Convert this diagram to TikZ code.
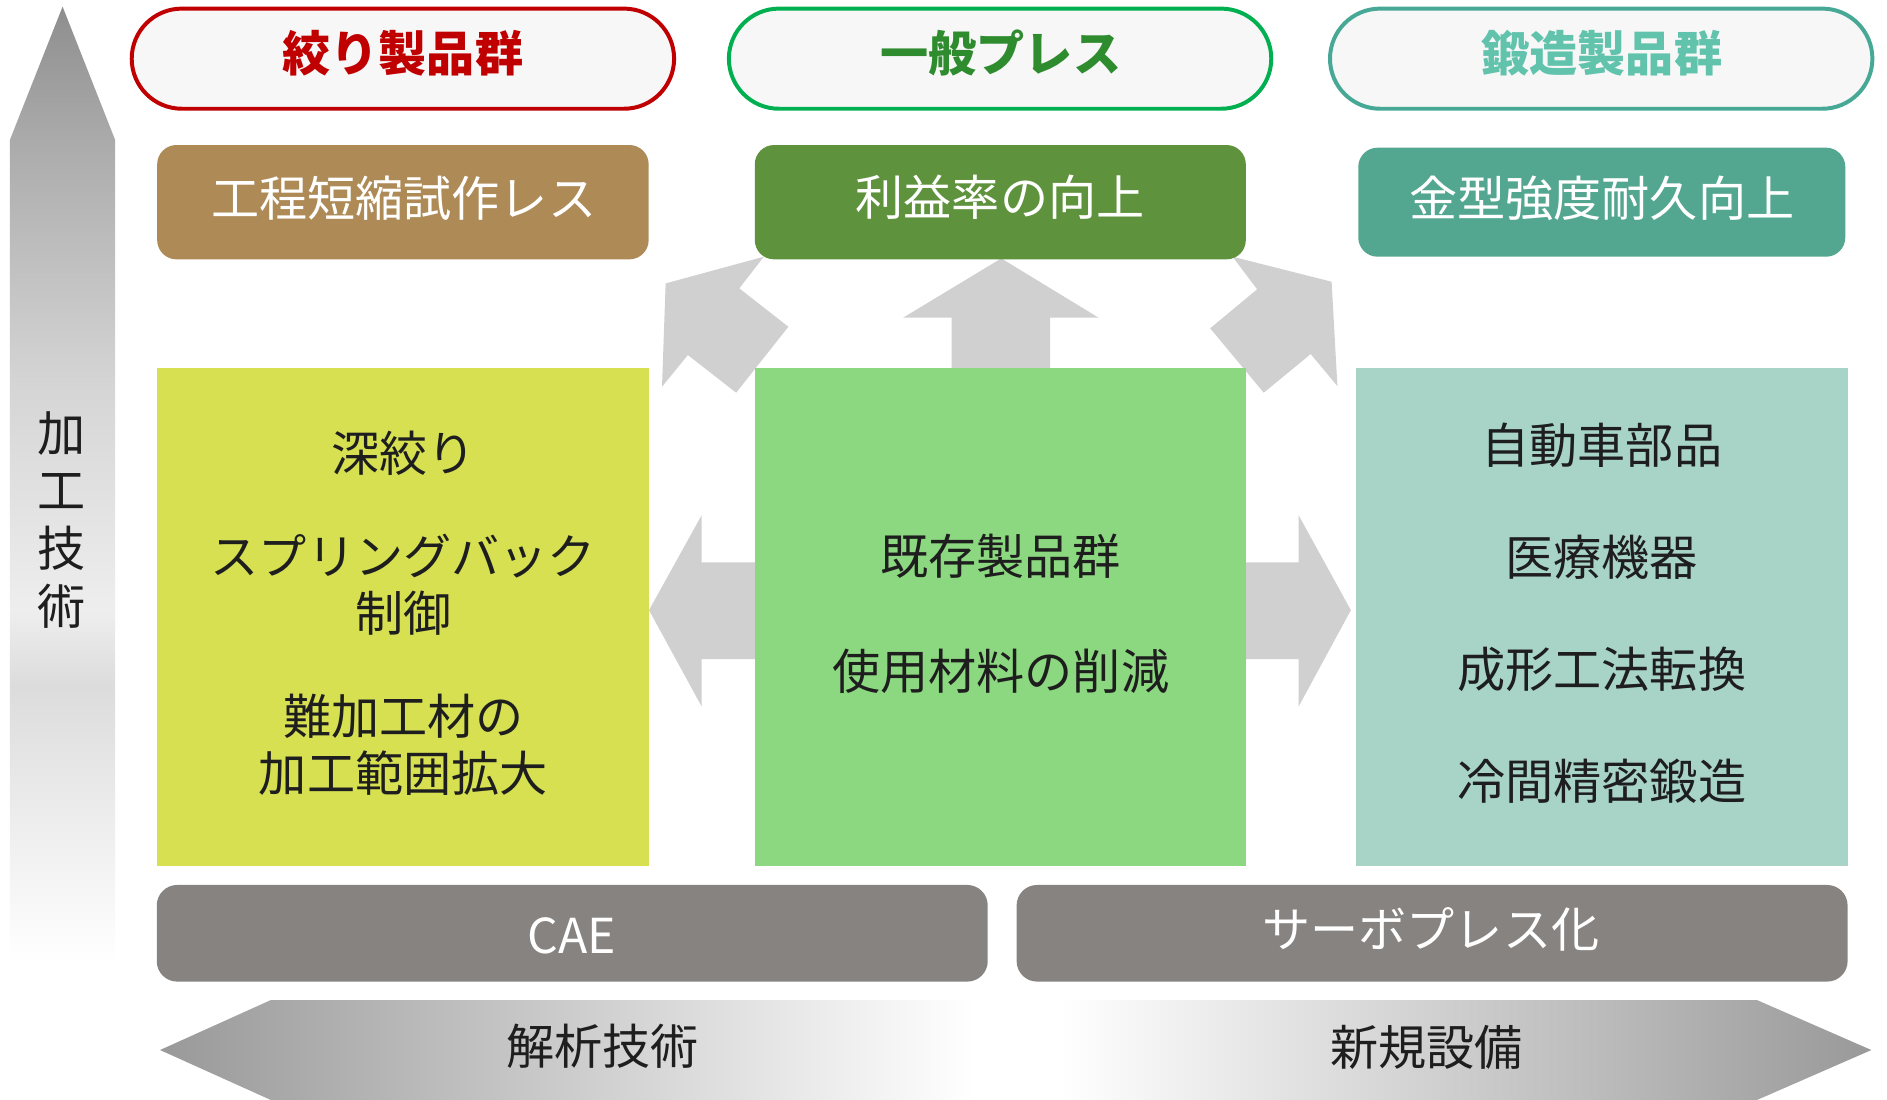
\documentclass[tikz,border=0pt]{standalone}
\usepackage{fontspec}
\setmainfont{Noto Sans CJK JP}
\definecolor{rojo}{HTML}{C00000}
\definecolor{verdeborde}{HTML}{00B050}
\definecolor{verdetexto}{HTML}{2E8B2E}
\definecolor{turquesaborde}{HTML}{47A896}
\definecolor{turquesatexto}{HTML}{62C3AD}
\definecolor{fondo}{HTML}{F7F7F7}
\definecolor{marron}{HTML}{AD8A56}
\definecolor{verdeoscuro}{HTML}{5E923C}
\definecolor{turquesa}{HTML}{53A68F}
\definecolor{amarillo}{HTML}{D6E051}
\definecolor{verdeclaro}{HTML}{8CD880}
\definecolor{turquesaclaro}{HTML}{A8D4C8}
\definecolor{grisbase}{HTML}{878381}
\definecolor{grisflecha}{HTML}{D0D0D0}
\definecolor{tinta}{HTML}{1E1E1E}
\definecolor{gv3}{HTML}{DCDCDC}
\definecolor{gv4}{HTML}{EEEEEE}
\definecolor{gv5}{HTML}{D5D5D5}
\definecolor{gv6}{HTML}{ABABAB}
\definecolor{gv7}{HTML}{8E8E8E}
\definecolor{gh}{HTML}{999999}
\pgfdeclareverticalshading{flechavertical}{100bp}{color(0bp)=(white); color(25bp)=(white); color(39.5bp)=(gv3); color(43.4bp)=(gv4); color(55.2bp)=(gv5); color(67.9bp)=(gv6); color(75bp)=(gv7); color(100bp)=(gv7)}
\pgfdeclarehorizontalshading{flechahorizontal}{100bp}{color(0bp)=(gh); color(25bp)=(gh); color(48.8bp)=(white); color(51.3bp)=(white); color(75bp)=(gh); color(100bp)=(gh)}
\tikzset{
  titulo/.style={line width=3.3pt, fill=fondo, rounded corners=41.6pt, minimum width=450.7pt, minimum height=83.2pt, inner sep=0pt},
  textotitulo/.style={font=\bfseries\fontsize{40}{48}\selectfont, text height=35pt, text depth=5pt, inner sep=0pt},
  meta/.style={rounded corners=16pt, inner sep=0pt},
  caja/.style={inner sep=0pt, minimum width=408.5pt, minimum height=413.6pt},
  base/.style={fill=grisbase, rounded corners=17pt, minimum width=690.5pt, minimum height=80.3pt, inner sep=0pt},
  texto/.style={font=\fontsize{40}{48}\selectfont, text=tinta, text height=35pt, text depth=5pt, inner sep=0pt},
  textoblanco/.style={texto, text=white},
  flecha/.style={fill=grisflecha}
}
\begin{document}
\begin{tikzpicture}[x=1pt,y=-1pt]
        \useasboundingbox (0,0) rectangle (1568,914);
        % Flecha vertical de fondo
        \shade[shading=flechavertical] (8.2,800) -- (8.2,116.3) -- (52,5.5) -- (95.7,116.3) -- (95.7,800) -- cycle;
        % Flecha doble inferior
        \shade[shading=flechahorizontal] (133,872.5) -- (225,831) -- (1460,831) -- (1555,872.5) -- (1460,914) -- (225,914) -- cycle;
        % Flechas grises entre las cajas
        \fill[flecha] (553.1,235.5) -- (634.7,213.3) -- (614.3,239.6) -- (655.1,271.5) -- (611.7,326.3) -- (571.6,295) -- (550.1,321.3) -- cycle;
        \fill[flecha] (1106.5,234.1) -- (1024.2,213.3) -- (1044.6,240.4) -- (1005.6,272.8) -- (1050.1,326.3) -- (1089.1,294.2) -- (1111.3,320.8) -- cycle;
        \fill[flecha] (790.8,306) -- (790.8,264) -- (750.4,264) -- (832,214.7) -- (912.9,264) -- (872.5,264) -- (872.5,306) -- cycle;
        \fill[flecha] (539.3,507) -- (583.1,428) -- (583.1,467.3) -- (628,467.3) -- (628,547.6) -- (583.1,547.6) -- (583.1,587.2) -- cycle;
        \fill[flecha] (1122.5,507) -- (1079,428) -- (1079,467.3) -- (1035,467.3) -- (1035,547.6) -- (1079,547.6) -- (1079,587.2) -- cycle;
        % Grupos de productos
        \node[titulo, draw=rojo] (grupo1) at (334.8,48.75) {};
        \node[titulo, draw=verdeborde] (grupo2) at (831,48.75) {};
        \node[titulo, draw=turquesaborde] (grupo3) at (1330.5,48.75) {};
        \node[textotitulo, text=rojo] (tgrupo1) at (334.8,44.3) {絞り製品群};
        \node[textotitulo, text=verdetexto] (tgrupo2) at (831.6,44.3) {一般プレス};
        \node[textotitulo, text=turquesatexto] (tgrupo3) at (1331,44.3) {鍛造製品群};
        % Objetivos
        \node[meta, fill=marron, minimum width=408.4pt, minimum height=95pt] (meta1) at (334.8,168) {};
        \node[meta, fill=verdeoscuro, minimum width=408pt, minimum height=95pt] (meta2) at (831.2,168) {};
        \node[meta, fill=turquesa, minimum width=404.7pt, minimum height=90.6pt] (meta3) at (1331,168) {};
        \node[textoblanco] (tmeta1) at (335.4,164.8) {工程短縮試作レス};
        \node[textoblanco] (tmeta2) at (831,164.3) {利益率の向上};
        \node[textoblanco] (tmeta3) at (1331,164.8) {金型強度耐久向上};
        % Cajas grandes
        \node[caja, fill=amarillo] (caja1) at (334.9,512.8) {};
        \node[caja, fill=verdeclaro] (caja2) at (831.4,512.8) {};
        \node[caja, fill=turquesaclaro] (caja3) at (1331.1,512.8) {};
        \node[texto] (c1a) at (335.2,376.7) {深絞り};
        \node[texto] (c1b) at (335.2,462.5) {スプリングバック};
        \node[texto] (c1c) at (335.2,509.6) {制御};
        \node[texto] (c1d) at (335.2,595.4) {難加工材の};
        \node[texto] (c1e) at (335.2,642.6) {加工範囲拡大};
        \node[texto] (c2a) at (831.5,462) {既存製品群};
        \node[texto] (c2b) at (831.5,558) {使用材料の削減};
        \node[texto] (c3a) at (1331,369.8) {自動車部品};
        \node[texto] (c3b) at (1331,463) {医療機器};
        \node[texto] (c3c) at (1331,556) {成形工法転換};
        \node[texto] (c3d) at (1331,649.5) {冷間精密鍛造};
        % Bases
        \node[base] (base1) at (475.5,775.5) {};
        \node[base] (base2) at (1190,775.5) {};
        \node[textoblanco] (tbase1) at (475,777.6) {CAE};
        \node[textoblanco] (tbase2) at (1189,772.6) {サーボプレス化};
        % Textos de las flechas
        \node[texto] (analisis) at (500.5,869.7) {解析技術};
        \node[texto] (equipo) at (1185.5,870) {新規設備};
        \node[font=\fontsize{40}{48.1}\selectfont, text=tinta, align=center, inner sep=0pt] (proceso) at (51.5,432) {加\\工\\技\\術};
    \end{tikzpicture}
\end{document}
